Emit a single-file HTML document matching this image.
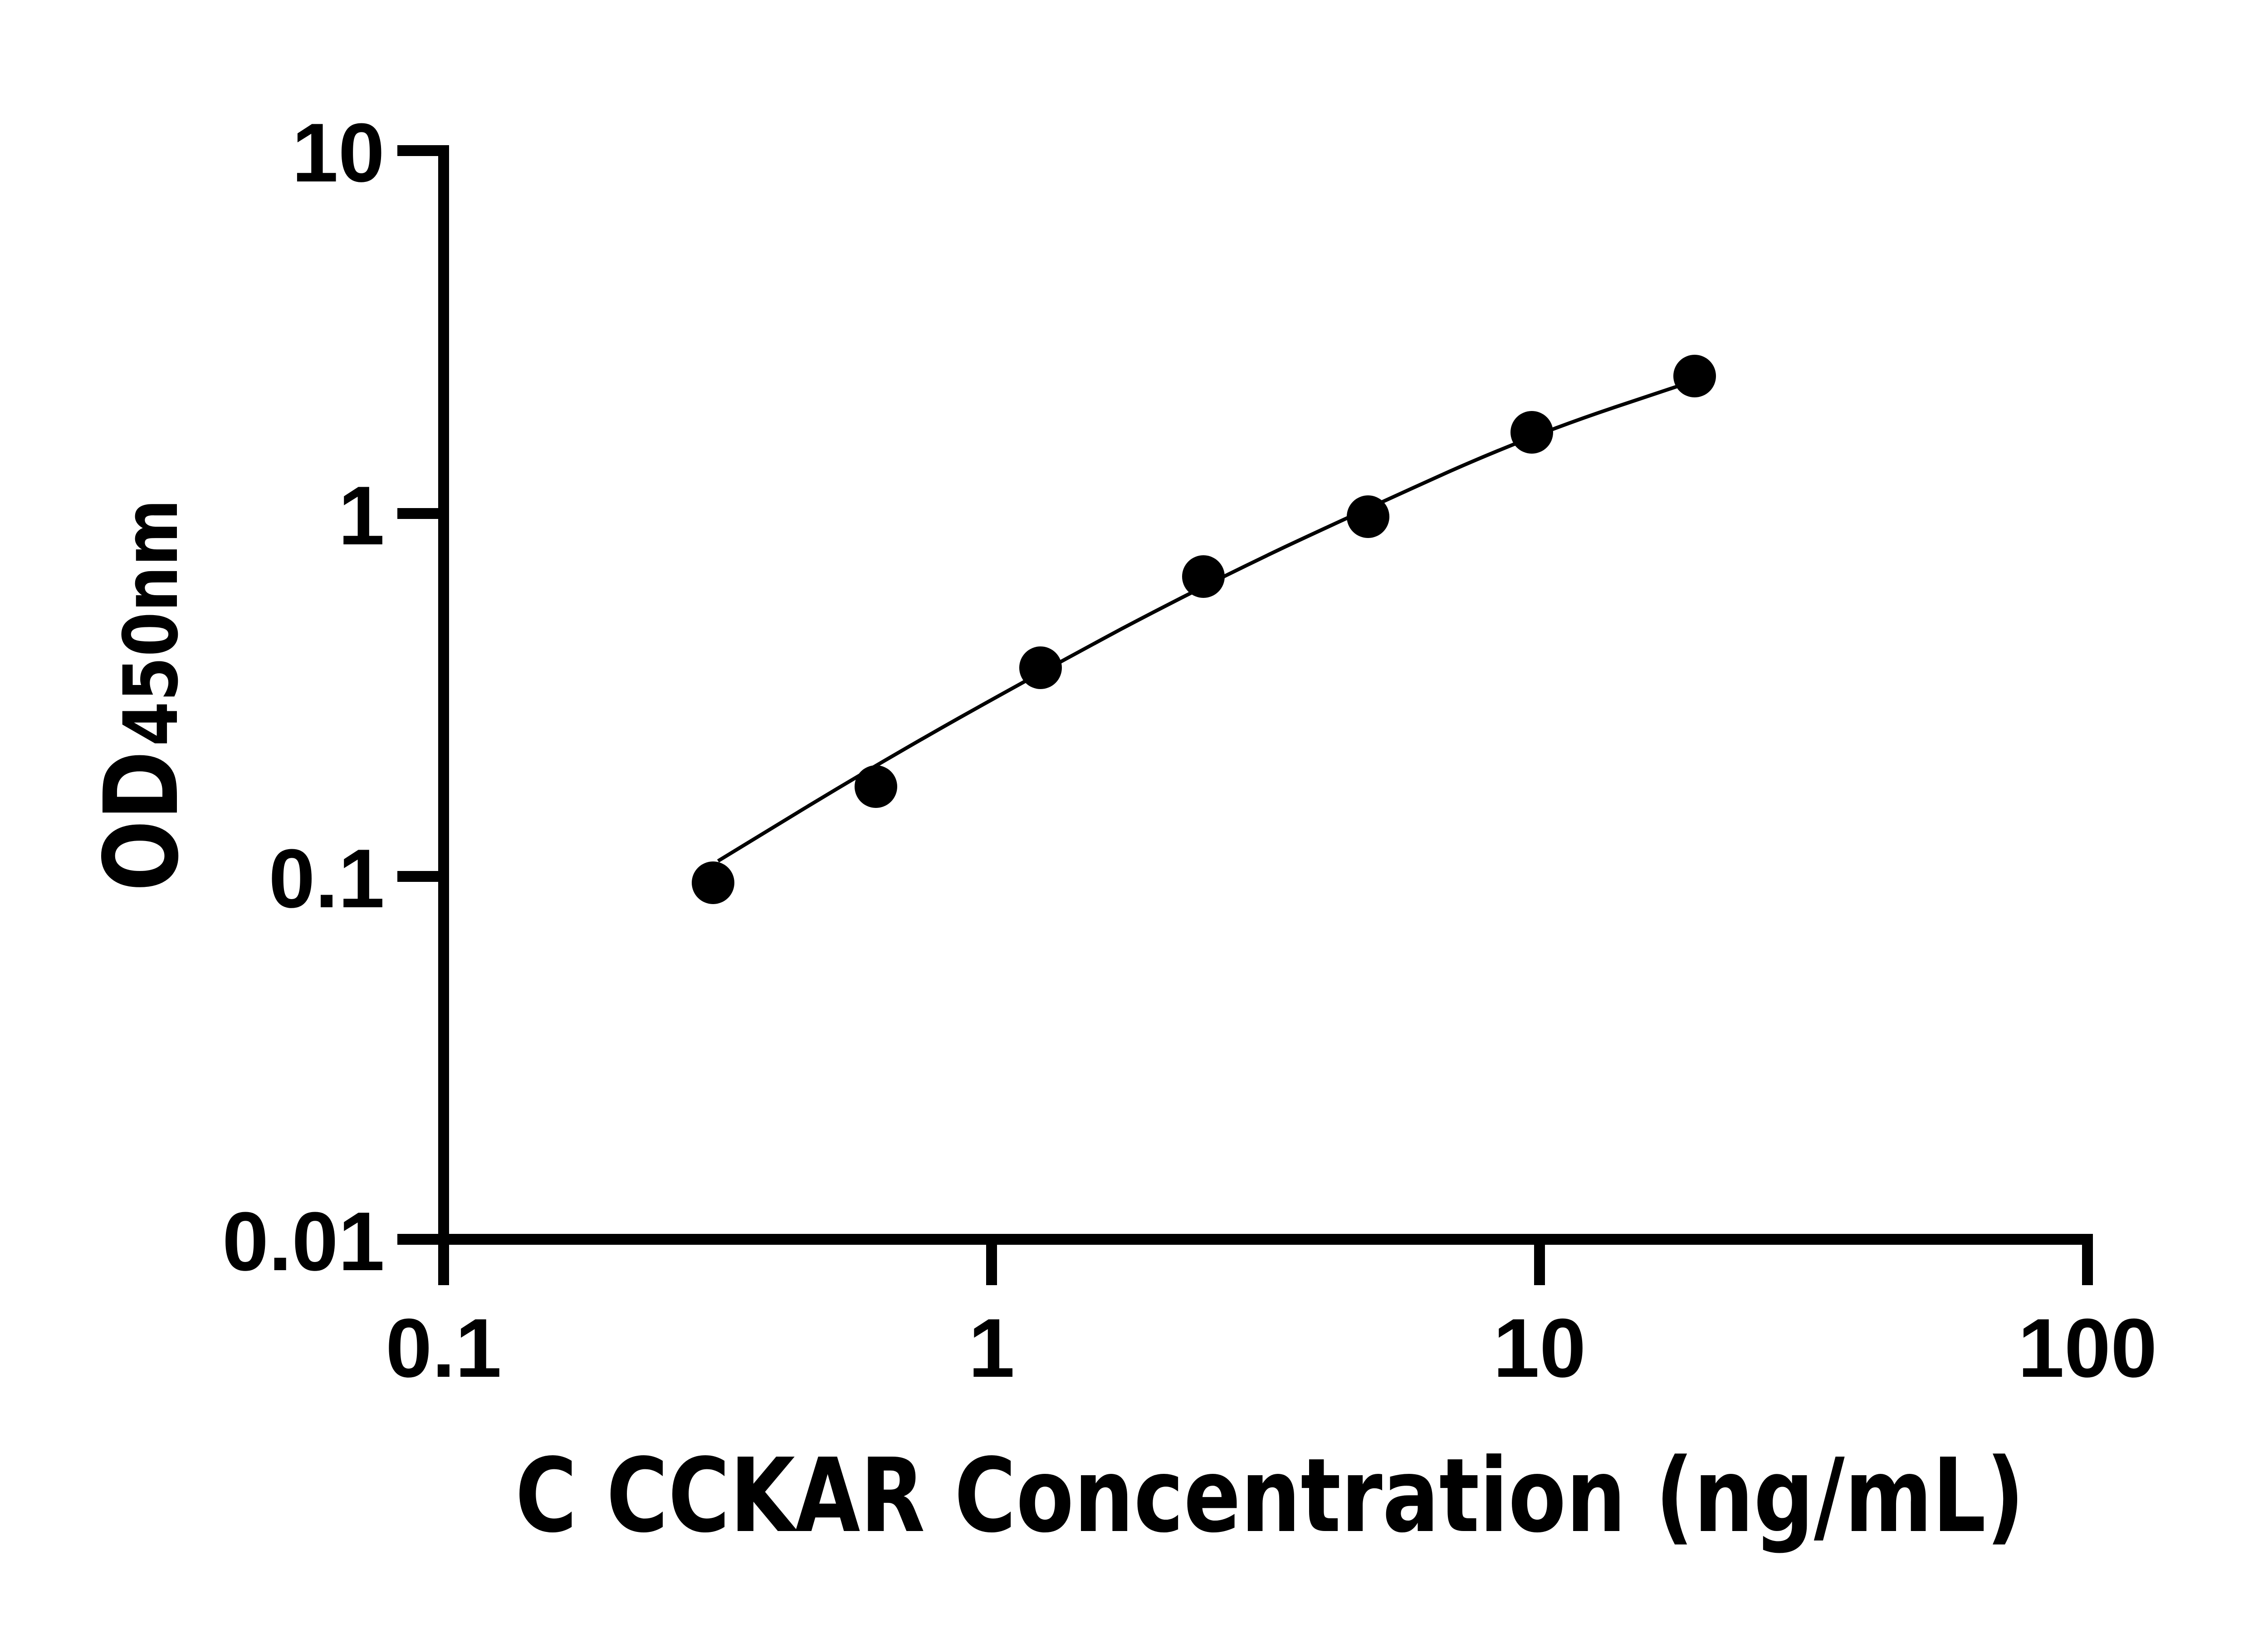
<!DOCTYPE html>
<html><head><meta charset="utf-8"><style>html,body{margin:0;padding:0;background:#fff}svg{display:block}</style></head>
<body>
<svg width="5138" height="3591" viewBox="0 0 5138 3591" xmlns="http://www.w3.org/2000/svg">
<rect width="5138" height="3591" fill="#fff"/>
<g stroke="#000" stroke-width="24" fill="none">
<line x1="978" y1="320" x2="978" y2="2833"/>
<line x1="966" y1="2732" x2="4602" y2="2732"/>
<line x1="876" y1="332" x2="990" y2="332"/>
<line x1="876" y1="1132" x2="990" y2="1132"/>
<line x1="876" y1="1932" x2="990" y2="1932"/>
<line x1="876" y1="2732" x2="990" y2="2732"/>
<line x1="2186" y1="2732" x2="2186" y2="2833"/>
<line x1="3394" y1="2732" x2="3394" y2="2833"/>
<line x1="4602" y1="2720" x2="4602" y2="2833"/>
</g>
<path fill="none" stroke="#000" stroke-width="8" d="M1583,1898 L1757,1792 Q1931,1686 2112,1584 Q2294,1482 2473,1386 Q2653,1291 2834,1205 Q3016,1120 3196,1039 Q3377,959 3556,899 L3736,839"/>
<g fill="#000">
<circle cx="1572" cy="1946" r="47"/><circle cx="1931" cy="1734" r="47"/><circle cx="2294" cy="1472" r="47"/><circle cx="2653" cy="1271" r="47"/><circle cx="3016" cy="1139" r="47"/><circle cx="3377" cy="953" r="47"/><circle cx="3736" cy="829" r="47"/>
</g>
<g style="font-family:'Liberation Sans',Arial,sans-serif;font-weight:bold" font-size="184" fill="#000">
<text x="848" y="400" text-anchor="end">10</text>
<text x="848" y="1200" text-anchor="end">1</text>
<text x="848" y="2000" text-anchor="end">0.1</text>
<text x="848" y="2800" text-anchor="end">0.01</text>
<text x="978" y="3035" text-anchor="middle">0.1</text>
<text x="2186" y="3035" text-anchor="middle">1</text>
<text x="3394" y="3035" text-anchor="middle">10</text>
<text x="4602" y="3035" text-anchor="middle">100</text>
</g>
<text x="1136" y="3375" style="font-family:'DejaVu Sans','Liberation Sans',sans-serif;font-weight:bold" font-size="225" textLength="3327" lengthAdjust="spacingAndGlyphs">C CCKAR Concentration (ng/mL)</text>
<g transform="translate(390,1965) rotate(-90)" style="font-family:'DejaVu Sans','Liberation Sans',sans-serif;font-weight:bold">
<text x="0" y="0" font-size="225" textLength="310" lengthAdjust="spacingAndGlyphs">OD</text>
<text x="320" y="0" font-size="165" textLength="545" lengthAdjust="spacingAndGlyphs">450nm</text>
</g>
</svg>
</body></html>
